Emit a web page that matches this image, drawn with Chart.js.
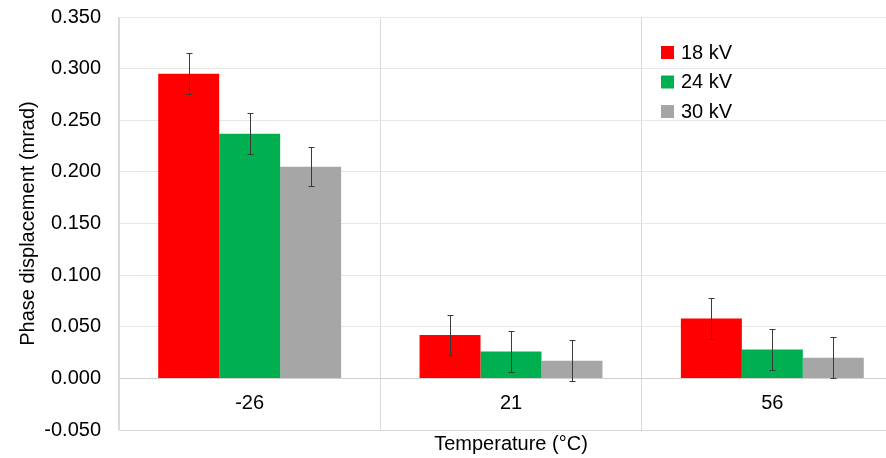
<!DOCTYPE html>
<html>
<head>
<meta charset="utf-8">
<script src="https://cdn.jsdelivr.net/npm/chart.js@4.4.1/dist/chart.umd.min.js"></script>
<style>
  html, body { margin: 0; padding: 0; background: #fff; overflow: hidden; width: 886px; height: 458px; }
  #wrap { width: 905px; height: 458px; }
</style>
</head>
<body>
<div id="wrap"><canvas id="c" width="905" height="458"></canvas></div>
<script>
const categories = ['-26', '21', '56'];
const seriesNames = ['18 kV', '24 kV', '30 kV'];
const kv18 = [0.295, 0.042, 0.058];
const kv24 = [0.237, 0.026, 0.028];
const kv30 = [0.205, 0.017, 0.020];
const err18 = [0.020, 0.0195, 0.020];
const err24 = [0.020, 0.020, 0.020];
const err30 = [0.019, 0.020, 0.020];
const yTicks = [-0.05, 0.0, 0.05, 0.10, 0.15, 0.20, 0.25, 0.30, 0.35];
const colors = ['#ff0000', '#00b050', '#a6a6a6'];

const FONT = '"Liberation Sans", Arial, sans-serif';

const errorBars = {
  id: 'errorBars',
  afterDatasetsDraw(chart) {
    const ctx = chart.ctx, y = chart.scales.y;
    ctx.save();
    ctx.strokeStyle = '#3a3a3a';
    ctx.lineWidth = 1;
    chart.data.datasets.forEach((ds, i) => {
      const meta = chart.getDatasetMeta(i);
      meta.data.forEach((bar, j) => {
        const v = ds.data[j], e = ds.errors[j];
        const x = Math.round(bar.x) + 0.5;
        const yt = Math.round(y.getPixelForValue(v + e)) + 0.5;
        const yb = Math.round(y.getPixelForValue(v - e)) + 0.5;
        ctx.beginPath();
        ctx.moveTo(x, yt); ctx.lineTo(x, yb);
        ctx.moveTo(x - 3, yt); ctx.lineTo(x + 3, yt);
        ctx.moveTo(x - 3, yb); ctx.lineTo(x + 3, yb);
        ctx.stroke();
      });
    });
    ctx.restore();
  }
};

const catLabels = {
  id: 'catLabels',
  afterDraw(chart) {
    const ctx = chart.ctx, xs = chart.scales.x, ys = chart.scales.y;
    ctx.save();
    ctx.font = '20px ' + FONT;
    ctx.fillStyle = '#000';
    ctx.textAlign = 'center';
    ctx.textBaseline = 'middle';
    const y0 = ys.getPixelForValue(0) + 25;
    chart.data.labels.forEach((lab, i) => {
      ctx.fillText(lab, xs.getPixelForValue(i), y0);
    });
    // legend inside plot
    chart.data.datasets.forEach((ds, i) => {
      const top = 46 + i * 29.5;
      ctx.fillStyle = ds.backgroundColor;
      ctx.fillRect(661, top, 13, 13);
      ctx.fillStyle = '#000';
      ctx.textAlign = 'left';
      ctx.fillText(ds.label, 681, top + 7);
    });
    ctx.restore();
  }
};

new Chart(document.getElementById('c'), {
  type: 'bar',
  data: {
    labels: categories,
    datasets: [
      { label: seriesNames[0], data: kv18, errors: err18, backgroundColor: colors[0] },
      { label: seriesNames[1], data: kv24, errors: err24, backgroundColor: colors[1] },
      { label: seriesNames[2], data: kv30, errors: err30, backgroundColor: colors[2] }
    ]
  },
  options: {
    responsive: false,
    animation: false,
    devicePixelRatio: 1,
    layout: { padding: { top: 17, right: 2, bottom: 0, left: 0 } },
    datasets: { bar: { categoryPercentage: 0.70, barPercentage: 1.0, borderWidth: 0 } },
    plugins: { legend: { display: false }, tooltip: { enabled: false } },
    scales: {
      x: {
        grid: {
          display: true, offset: true, drawTicks: false,
          color: (c) => (c.index === 3) ? 'rgba(0,0,0,0)' : '#d9d9d9'
        },
        border: { display: true, color: '#d9d9d9' },
        ticks: { display: false },
        title: { display: true, text: 'Temperature (°C)', color: '#000', font: { family: FONT, size: 20 }, padding: { top: 0, bottom: 2 } },
        afterFit(s) { s.height = 28; s.paddingLeft = 0; s.paddingRight = 0; }
      },
      y: {
        min: -0.05, max: 0.35,
        afterBuildTicks(s) { s.ticks = yTicks.map(v => ({ value: v })); },
        grid: {
          drawTicks: false,
          color: (c) => (c.tick && Math.abs(c.tick.value) < 1e-9) ? '#d0d0d0' : '#e6e6e6'
        },
        border: { display: true, color: '#d9d9d9' },
        ticks: {
          padding: 18, color: '#000', font: { family: FONT, size: 20 },
          callback: (v) => (Math.round(v * 1000) / 1000).toFixed(3)
        },
        title: { display: true, text: 'Phase displacement (mrad)', color: '#000', font: { family: FONT, size: 20 }, padding: { top: 16, bottom: 0 } },
        afterFit(s) { s.width = 119; s.paddingTop = 0; s.paddingBottom = 0; }
      }
    }
  },
  plugins: [errorBars, catLabels]
});
</script>
</body>
</html>
